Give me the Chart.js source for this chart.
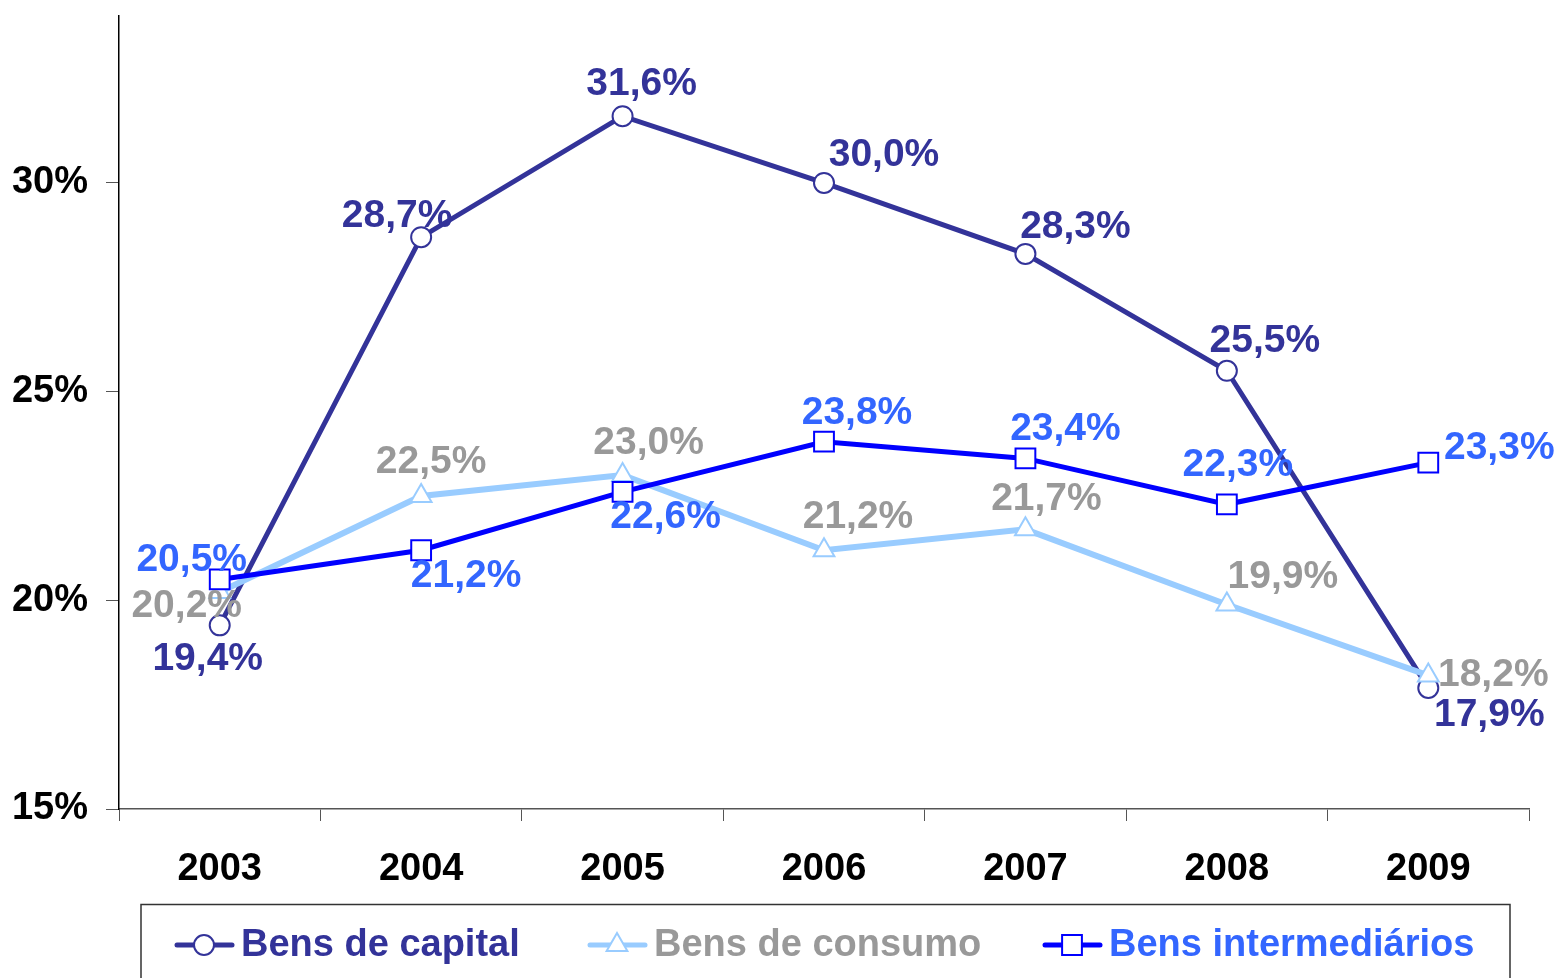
<!DOCTYPE html>
<html>
<head>
<meta charset="utf-8">
<script src="https://cdn.jsdelivr.net/npm/chart.js@4.4.1/dist/chart.umd.min.js"></script>
<style>
  html, body { margin: 0; padding: 0; background: #fff; }
  #wrap { width: 1563px; height: 978px; }
</style>
</head>
<body>
<div id="wrap"><canvas id="chart" width="1563" height="978"></canvas></div>
<script>
const years = ['2003', '2004', '2005', '2006', '2007', '2008', '2009'];
const capital = [19.4, 28.7, 31.6, 30.0, 28.3, 25.5, 17.9];
const consumo = [20.2, 22.5, 23.0, 21.2, 21.7, 19.9, 18.2];
const intermediarios = [20.5, 21.2, 22.6, 23.8, 23.4, 22.3, 23.3];
const yTicks = [15, 20, 25, 30];

const FONT = '"Liberation Sans", Arial, sans-serif';

// label offsets from each point (px), per dataset
const labelOffsets = [
  [[-12, 34], [-24, -21], [19, -32], [60, -28], [50, -27], [38, -30], [61, 27]],
  [[-33, 14], [10, -34], [26, -32], [34, -33], [21, -30], [56, -27], [65, 0]],
  [[-28, -19], [45, 26], [43, 25], [33, -28], [40, -29], [11, -39], [71, -14]]
];
const labelColors = ['#333399', '#999999', '#3366FF'];
const legendX = [177, 590, 1045];

const fmt = v => v.toFixed(1).replace('.', ',') + '%';

const valueLabels = {
  id: 'valueLabels',
  afterDatasetsDraw(chart) {
    const ctx = chart.ctx;
    ctx.save();
    ctx.font = 'bold 39px ' + FONT;
    ctx.textAlign = 'center';
    ctx.textBaseline = 'middle';
    chart.data.datasets.forEach((ds, i) => {
      const meta = chart.getDatasetMeta(i);
      ctx.fillStyle = labelColors[i];
      meta.data.forEach((pt, j) => {
        const off = labelOffsets[i][j];
        ctx.fillText(fmt(ds.data[j]), pt.x + off[0], pt.y + off[1]);
      });
    });
    ctx.restore();
  }
};

const boxLegend = {
  id: 'boxLegend',
  afterDraw(chart) {
    const ctx = chart.ctx;
    ctx.save();
    ctx.strokeStyle = '#333';
    ctx.lineWidth = 1.5;
    ctx.beginPath();
    ctx.moveTo(141, 990);
    ctx.lineTo(141, 904.5);
    ctx.lineTo(1510, 904.5);
    ctx.lineTo(1510, 990);
    ctx.stroke();
    const y = 945;
    ctx.font = 'bold 38px ' + FONT;
    ctx.textBaseline = 'middle';
    ctx.textAlign = 'left';
    chart.data.datasets.forEach((ds, i) => {
      const x0 = legendX[i];
      ctx.strokeStyle = ds.borderColor;
      ctx.lineWidth = 5;
      ctx.lineCap = 'round';
      ctx.beginPath();
      ctx.moveTo(x0, y);
      ctx.lineTo(x0 + 55, y);
      ctx.stroke();
      ctx.fillStyle = '#fff';
      ctx.strokeStyle = ds.pointBorderColor;
      ctx.lineWidth = 2;
      Chart.helpers.drawPoint(ctx, {
        pointStyle: ds.pointStyle, radius: ds.pointRadius, rotation: 0, borderWidth: 2
      }, x0 + 27, y);
      ctx.fillStyle = labelColors[i];
      ctx.fillText(ds.label, x0 + 64, y + 1);
    });
    ctx.restore();
  }
};

new Chart(document.getElementById('chart'), {
  type: 'line',
  data: {
    labels: years,
    datasets: [
      {
        label: 'Bens de capital',
        data: capital,
        borderColor: '#333399',
        borderWidth: 5,
        pointStyle: 'circle',
        pointRadius: 10,
        pointBackgroundColor: '#fff',
        pointBorderColor: '#333399',
        pointBorderWidth: 2,
        order: 2
      },
      {
        label: 'Bens de consumo',
        data: consumo,
        borderColor: '#99CCFF',
        borderWidth: 6,
        pointStyle: 'triangle',
        pointRadius: 12,
        pointBackgroundColor: '#fff',
        pointBorderColor: '#99CCFF',
        pointBorderWidth: 2,
        order: 1
      },
      {
        label: 'Bens intermediários',
        data: intermediarios,
        borderColor: '#0000FF',
        borderWidth: 5,
        pointStyle: 'rect',
        pointRadius: 14,
        pointBackgroundColor: '#fff',
        pointBorderColor: '#0000FF',
        pointBorderWidth: 2,
        order: 0
      }
    ]
  },
  options: {
    responsive: false,
    animation: false,
    devicePixelRatio: 1,
    layout: { padding: { top: 9, right: 34, bottom: 69, left: 0 } },
    plugins: { legend: { display: false }, tooltip: { enabled: false } },
    elements: { line: { tension: 0 } },
    scales: {
      x: {
        offset: true,
        grid: { offset: true, drawOnChartArea: false, drawTicks: true, tickLength: 12, color: '#555' },
        border: { color: '#555', width: 1.5 },
        ticks: { padding: 26, color: '#000', font: { family: FONT, size: 38, weight: 'bold' } },
        afterFit: s => { s.height = 100; s.paddingLeft = 0; s.paddingRight = 0; }
      },
      y: {
        min: 15,
        max: 34,
        afterBuildTicks: s => { s.ticks = yTicks.map(v => ({ value: v })); },
        grid: { drawOnChartArea: false, drawTicks: true, tickLength: 13, color: '#555' },
        border: { color: '#000', width: 1.5 },
        ticks: {
          padding: 18,
          color: '#000',
          font: { family: FONT, size: 38, weight: 'bold' },
          callback: v => v + '%'
        },
        afterFit: s => { s.width = 119; s.paddingTop = 0; s.paddingBottom = 0; }
      }
    }
  },
  plugins: [valueLabels, boxLegend]
});
</script>
</body>
</html>
